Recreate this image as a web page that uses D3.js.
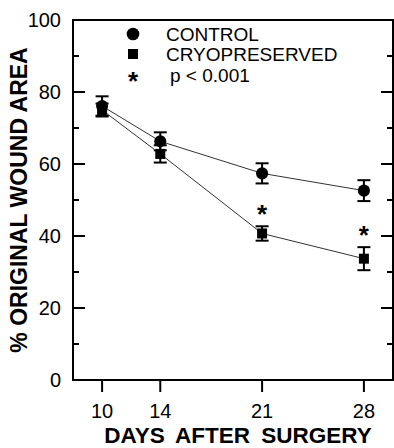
<!DOCTYPE html>
<html>
<head>
<meta charset="utf-8">
<script src="https://cdn.jsdelivr.net/npm/d3@7.9.0/dist/d3.min.js"></script>
<style>
  html, body { margin: 0; padding: 0; background: #fff; }
  svg { display: block; font-family: "Liberation Sans", Arial, sans-serif; }
</style>
</head>
<body>
<svg id="chart" width="394" height="448"></svg>
<script>
// ---- data ----
const days = [10, 14, 21, 28];
const controlMean = [76.1, 66.3, 57.4, 52.6];
const controlErr  = [2.7, 2.5, 2.8, 2.9];
const cryoMean = [75.0, 62.8, 40.7, 33.7];
const cryoErr  = [1.8, 2.4, 2.0, 3.2];
const significant = [21, 28];   // days marked with *
const yTicks = [0, 20, 40, 60, 80, 100];
const yMinor = [10, 30, 50, 70, 90];

const svg = d3.select("#chart");
const plotL = 73, plotR = 393, plotT = 20, plotB = 380;

const x = d3.scaleLinear().domain([8, 30]).range([plotL, plotR]);
const y = d3.scaleLinear().domain([0, 100]).range([plotB, plotT]);

/* frame */
svg.append("rect")
  .attr("x", plotL).attr("y", plotT)
  .attr("width", plotR - plotL).attr("height", plotB - plotT)
  .attr("fill", "none").attr("stroke", "#000").attr("stroke-width", 2);

/* left + right axis ticks (inward) */
const tickG = svg.append("g").attr("stroke", "#000").attr("stroke-width", 2);
yTicks.forEach(v => {
  tickG.append("line").attr("x1", plotL).attr("x2", plotL + 12).attr("y1", y(v)).attr("y2", y(v));
  tickG.append("line").attr("x1", plotR).attr("x2", plotR - 12).attr("y1", y(v)).attr("y2", y(v));
});
yMinor.forEach(v => {
  tickG.append("line").attr("x1", plotL).attr("x2", plotL + 6).attr("y1", y(v)).attr("y2", y(v));
  tickG.append("line").attr("x1", plotR).attr("x2", plotR - 6).attr("y1", y(v)).attr("y2", y(v));
});

svg.append("g")
  .selectAll("text").data(yTicks).enter().append("text")
  .attr("x", plotL - 12).attr("y", d => y(d))
  .attr("dy", "0.36em")
  .attr("text-anchor", "end")
  .attr("font-size", 20)
  .text(d => d);

/* bottom axis: outward ticks */
days.forEach(d => {
  tickG.append("line").attr("x1", x(d)).attr("x2", x(d)).attr("y1", plotB).attr("y2", plotB + 12);
});
svg.append("g")
  .selectAll("text").data(days).enter().append("text")
  .attr("x", d => x(d)).attr("y", 418)
  .attr("text-anchor", "middle")
  .attr("font-size", 20)
  .text(d => d);

/* axis titles */
svg.append("text")
  .attr("x", 238).attr("y", 443)
  .attr("text-anchor", "middle")
  .attr("font-size", 22.5).attr("font-weight", "bold")
  .attr("word-spacing", 5)
  .text("DAYS AFTER SURGERY");

svg.append("text")
  .attr("transform", "translate(27,200) rotate(-90)")
  .attr("text-anchor", "middle")
  .attr("font-size", 23).attr("font-weight", "bold")
  .text("% ORIGINAL WOUND AREA");

/* series */
function drawSeries(means, errs, shape) {
  const pts = days.map((d, i) => ({ day: d, m: means[i], e: errs[i] }));
  svg.append("path")
    .datum(pts)
    .attr("fill", "none").attr("stroke", "#333").attr("stroke-width", 1)
    .attr("d", d3.line().x(p => x(p.day)).y(p => y(p.m)));

  const g = svg.append("g").attr("stroke", "#000").attr("stroke-width", 2);
  pts.forEach(p => {
    const cx = x(p.day);
    g.append("line").attr("x1", cx).attr("x2", cx).attr("y1", y(p.m + p.e)).attr("y2", y(p.m - p.e));
    [p.m + p.e, p.m - p.e].forEach(v => {
      g.append("line").attr("x1", cx - 6.5).attr("x2", cx + 6.5).attr("y1", y(v)).attr("y2", y(v));
    });
  });

  const sym = d3.symbol().type(shape === "circle" ? d3.symbolCircle : d3.symbolSquare)
    .size(shape === "circle" ? 115 : 100);
  svg.append("g").selectAll("path").data(pts).enter().append("path")
    .attr("transform", p => `translate(${x(p.day)},${y(p.m)})`)
    .attr("d", sym).attr("fill", "#000");
}
drawSeries(controlMean, controlErr, "circle");
drawSeries(cryoMean, cryoErr, "square");

/* significance asterisks */
svg.append("g").selectAll("text").data(significant).enter().append("text")
  .attr("x", d => x(d))
  .attr("y", d => { const i = days.indexOf(d); return y(cryoMean[i] + cryoErr[i]) - 3; })
  .attr("text-anchor", "middle")
  .attr("font-size", 26).attr("font-weight", "bold")
  .text("*");

/* legend */
const legend = svg.append("g");
legend.append("path").attr("transform", "translate(133,34)")
  .attr("d", d3.symbol().type(d3.symbolCircle).size(125)).attr("fill", "#000");
legend.append("path").attr("transform", "translate(133,54)")
  .attr("d", d3.symbol().type(d3.symbolSquare).size(100)).attr("fill", "#000");
legend.append("text").attr("x", 133).attr("y", 90).attr("text-anchor", "middle")
  .attr("font-size", 26).attr("font-weight", "bold").text("*");
const legendText = ["CONTROL", "CRYOPRESERVED", "p < 0.001"];
const legendX = [166, 166, 170];
const legendY = [34, 54, 75];
legendText.forEach((t, i) => {
  legend.append("text").attr("x", legendX[i]).attr("y", legendY[i]).attr("dy", "0.36em")
    .attr("font-size", 19).text(t);
});
</script>
</body>
</html>
